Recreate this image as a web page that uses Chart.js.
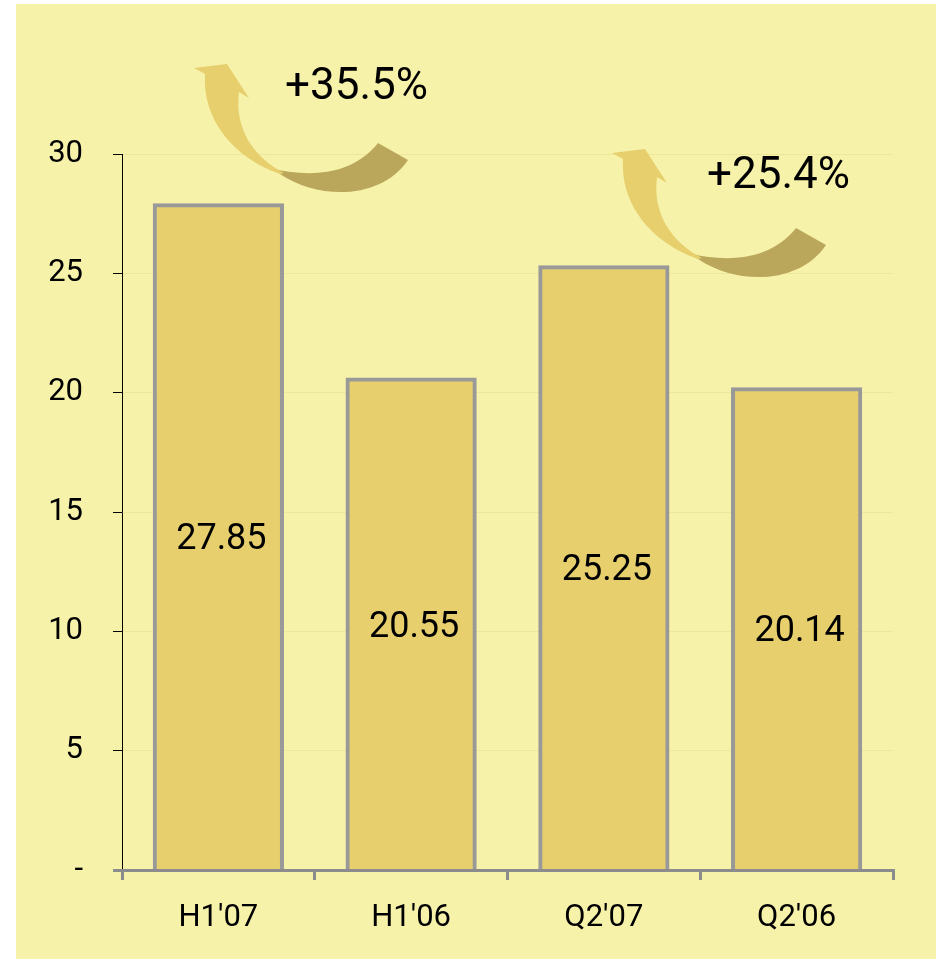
<!DOCTYPE html>
<html><head><meta charset="utf-8">
<script src="https://cdn.jsdelivr.net/npm/chart.js@4"></script>
<style>
html,body{margin:0;padding:0;background:#fff;}
#wrap{position:absolute;left:16px;top:4px;width:920px;height:955px;background:#f7f2aa;}
canvas{display:block;}
</style></head><body>
<div id="wrap"><canvas id="c" width="920" height="955"></canvas></div>
<script>
const categories = ["H1'07", "H1'06", "Q2'07", "Q2'06"];
const values = [27.85, 20.55, 25.25, 20.14];
const yTicks = [0, 5, 10, 15, 20, 25, 30];
const growthLabels = ["+35.5%", "+25.4%"];

const FONT = 'Roboto, "Open Sans", sans-serif';
const BAR = '#e6cf6c';
const DARK = '#bba75b';

// arrow shape, local coords relative to arrowhead tip
function arrowPaths(ctx, ox, oy) {
  const P = (x, y) => [x - 195 + ox, y - 68 + oy];
  ctx.fillStyle = DARK;
  ctx.beginPath();
  ctx.moveTo(...P(268, 166));
  ctx.lineTo(...P(280, 174));
  ctx.bezierCurveTo(...P(320, 201), ...P(382, 199), ...P(408, 160));
  ctx.lineTo(...P(378, 143));
  ctx.bezierCurveTo(...P(350, 178), ...P(305, 176), ...P(274, 169));
  ctx.closePath();
  ctx.fill();
  ctx.fillStyle = BAR;
  ctx.beginPath();
  ctx.moveTo(...P(194, 68));
  ctx.lineTo(...P(227, 64));
  ctx.lineTo(...P(249, 98));
  ctx.lineTo(...P(239, 92));
  ctx.bezierCurveTo(...P(234, 130), ...P(255, 158), ...P(284, 173));
  ctx.lineTo(...P(280, 174));
  ctx.bezierCurveTo(...P(234, 158), ...P(202, 120), ...P(205, 74));
  ctx.closePath();
  ctx.fill();
}

const decoPlugin = {
  id: 'deco',
  afterDatasetsDraw(chart) {
    const ctx = chart.ctx;
    const a = chart.chartArea;
    const meta = chart.getDatasetMeta(0);
    ctx.save();
    ctx.font = '36px ' + FONT;
    ctx.fillStyle = '#000';
    ctx.textAlign = 'center';
    ctx.textBaseline = 'middle';
    meta.data.forEach((bar, i) => {
      const y = (bar.y + bar.base) / 2;
      ctx.fillText(values[i].toFixed(2), bar.x + 3, y + 3);
    });
    const arrows = [
      {x: a.left + 73, y: a.top - 86, tx: 90, ty: 31},
      {x: a.left + 491, y: a.top - 1, tx: 94, ty: 35}
    ];
    arrows.forEach((ar, i) => {
      arrowPaths(ctx, ar.x, ar.y);
      ctx.font = '44px ' + FONT;
      ctx.fillStyle = '#000';
      ctx.textAlign = 'left';
      ctx.textBaseline = 'alphabetic';
      ctx.fillText(growthLabels[i], ar.x + ar.tx, ar.y + ar.ty);
    });
    ctx.restore();
  }
};

new Chart(document.getElementById('c'), {
  type: 'bar',
  data: {
    labels: categories,
    datasets: [{
      data: values,
      backgroundColor: BAR,
      borderColor: '#999999',
      borderWidth: 4,
      inflateAmount: 2,
      barPercentage: 0.66,
      categoryPercentage: 1.0
    }]
  },
  options: {
    responsive: false,
    animation: false,
    layout: {padding: {top: 150, right: 43, left: 0, bottom: 0}},
    plugins: {legend: {display: false}, tooltip: {enabled: false}},
    scales: {
      x: {
        grid: {
          offset: true,
          drawOnChartArea: false,
          color: '#8c8c8c',
          tickColor: '#8c8c8c',
          lineWidth: 3,
          tickWidth: 3,
          tickLength: 10
        },
        border: {display: true, color: '#8c8c8c', width: 3, z: 1},
        ticks: {color: '#000', font: {family: FONT, size: 31}, padding: 20},
        afterFit(s) { s.height = 89; }
      },
      y: {
        min: 0, max: 30,
        afterBuildTicks(s) { s.ticks = yTicks.map(v => ({value: v})); },
        grid: {
          color: ctx => ctx.tick && ctx.tick.value === 0 ? 'rgba(0,0,0,0)' : 'rgba(200,180,90,0.18)',
          tickColor: ctx => ctx.tick && ctx.tick.value === 0 ? '#8c8c8c' : '#000',
          tickWidth: ctx => ctx.tick && ctx.tick.value === 0 ? 3 : 1,
          lineWidth: 1,
          tickLength: 9
        },
        border: {display: true, color: '#000', width: 1},
        ticks: {
          color: '#000',
          font: {family: FONT, size: 31},
          padding: 30,
          callback: v => v === 0 ? '-' : String(v)
        },
        afterFit(s) { s.width = 106; }
      }
    }
  },
  plugins: [decoPlugin]
});
</script>
</body></html>
